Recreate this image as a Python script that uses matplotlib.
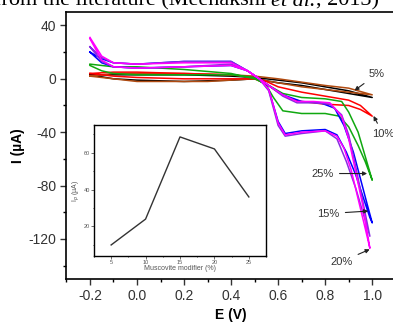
import numpy as np
import matplotlib.pyplot as plt
from matplotlib.ticker import MultipleLocator

# Voltammogrammes (E en V, I en µA), une boucle aller/retour par courbe
e5 = [-0.2, -0.1, 0.0, 0.2, 0.4, 0.5, 0.6, 0.7, 0.8, 0.9, 1.0,
      0.9, 0.8, 0.7, 0.6, 0.5, 0.4, 0.2, 0.0, -0.1, -0.2]
i5 = [3, 0, -1, -2, -1, 0, -3, -5, -8, -11, -14,
      -9, -6, -3, -1, 1, 2, 3, 3, 3, 3]

eb = [-0.2, -0.1, 0.0, 0.3, 0.5, 0.6, 0.7, 0.8, 0.9, 1.0,
      0.9, 0.8, 0.6, 0.5, 0.4, 0.2, 0.0, -0.1, -0.2]
ib = [2, 0, -2, -2, 0, -3, -6, -8, -10, -12,
      -7, -5, 0, 2, 3, 4, 4, 4, 2]

e10 = [-0.2, -0.1, 0.0, 0.2, 0.4, 0.5, 0.55, 0.6, 0.65, 0.7, 0.8, 0.9, 0.95, 1.0,
       0.95, 0.9, 0.8, 0.7, 0.6, 0.55, 0.5, 0.4, 0.2, 0.0, -0.1, -0.2]
i10 = [4, 2, 1, 0, 0, 0, -4, -10, -15, -17, -19, -20, -23, -28,
       -20, -16, -13, -10, -6, -2, 1, 3, 4, 5, 5, 4]

e25 = [-0.2, -0.15, -0.1, 0.0, 0.2, 0.4, 0.5, 0.55, 0.58, 0.62, 0.7, 0.8, 0.86, 0.9, 0.94, 0.97, 1.0,
       0.97, 0.94, 0.9, 0.87, 0.8, 0.7, 0.62, 0.55, 0.5, 0.4, 0.2, 0.0, -0.1, -0.2]
i25 = [10, 6, 4, 3, 3, 3, 1, -5, -14, -24, -26, -26, -28, -36, -50, -62, -76,
       -58, -40, -25, -17, -15, -14, -11, -4, 0, 4, 7, 9, 9, 11]

e15 = [-0.2, -0.15, -0.1, 0.0, 0.2, 0.4, 0.47, 0.52, 0.56, 0.58, 0.6, 0.63, 0.7, 0.8, 0.85, 0.89, 0.93, 0.96, 0.99, 1.0,
       0.98, 0.95, 0.92, 0.88, 0.84, 0.78, 0.7, 0.62, 0.56, 0.52, 0.47, 0.4, 0.2, 0.0, -0.1, -0.15, -0.2]
i15 = [20, 12, 9, 8, 9, 10, 6, 0, -8, -20, -32, -41, -39, -38, -42, -55, -72, -88, -104, -108,
       -95, -75, -55, -35, -22, -18, -17, -12, -5, 0, 6, 13, 13, 11, 12, 15, 20]

ev = [-0.2, -0.15, -0.1, 0.0, 0.2, 0.4, 0.47, 0.52, 0.56, 0.58, 0.6, 0.63, 0.7, 0.8, 0.85, 0.89, 0.93, 0.96, 0.99,
      0.96, 0.93, 0.9, 0.87, 0.82, 0.75, 0.68, 0.62, 0.56, 0.52, 0.47, 0.4, 0.2, 0.0, -0.1, -0.15, -0.2]
iv = [24, 13, 9, 8, 9, 11, 6, 0, -9, -22, -35, -43, -41, -39, -45, -62, -82, -100, -118,
      -92, -66, -42, -27, -19, -18, -18, -13, -5, 0, 6, 13, 13, 11, 12, 16, 24]

e20 = [-0.2, -0.15, -0.1, 0.0, 0.2, 0.4, 0.47, 0.52, 0.56, 0.58, 0.6, 0.63, 0.7, 0.8, 0.85, 0.88, 0.91, 0.94, 0.97, 0.99,
       0.96, 0.93, 0.9, 0.87, 0.82, 0.75, 0.68, 0.62, 0.56, 0.52, 0.47, 0.4, 0.2, 0.0, -0.1, -0.15, -0.2]
i20 = [30, 14, 9, 8, 9, 10, 6, 0, -8, -20, -33, -42, -40, -39, -43, -52, -68, -90, -112, -127,
       -95, -70, -45, -28, -18, -17, -17, -12, -5, 0, 6, 12, 12, 11, 12, 17, 31]

# Encart : courant de pic en fonction du taux de modifiant
taux = [5, 10, 15, 20, 25]
ipic = [10, 24, 68.5, 62, 36]

plt.rcParams['font.family'] = ['Liberation Sans', 'DejaVu Sans']
plt.rcParams['axes.unicode_minus'] = False

fig = plt.figure(figsize=(3.93, 3.27), dpi=100)
ax = fig.add_axes([0.169, 0.147, 0.838, 0.816])

courbes = [(e5, i5, 'black'), (eb, ib, '#b04a10'), (e10, i10, 'red'),
           (e25, i25, '#10a810'), (e15, i15, 'blue'), (ev, iv, '#8a2be2'),
           (e20, i20, 'magenta')]
for e, i, c in courbes:
    ax.plot(e, i, color=c, lw=1.1)

ax.set_xlim(-0.3, 1.1)
ax.set_ylim(-150, 50)
ax.xaxis.set_minor_locator(MultipleLocator(0.1))
ax.yaxis.set_major_locator(MultipleLocator(40))
ax.yaxis.set_minor_locator(MultipleLocator(20))
ax.set_xticks([-0.2, 0.0, 0.2, 0.4, 0.6, 0.8, 1.0])
ax.set_xticklabels(['-0.2', '0.0', '0.2', '0.4', '0.6', '0.8', '1.0'])
ax.tick_params(which='major', length=4, width=1, labelsize=10, colors='#333333')
ax.tick_params(which='minor', length=2.5, width=1)
for s in ax.spines.values():
    s.set_linewidth(1.2)
ax.set_xlabel('E (V)', fontsize=10, fontweight='bold', labelpad=3)
ax.set_ylabel('I (µA)', fontsize=10, fontweight='bold', labelpad=2)

# Étiquettes des courbes
fleche = dict(arrowstyle='-|>', color='#222222', lw=0.8, mutation_scale=6)
ax.annotate('5%', xy=(0.915, -10), xytext=(1.02, 3.5), fontsize=8, color='#333333',
            ha='center', va='center', arrowprops=fleche)
ax.annotate('10%', xy=(1.0, -26), xytext=(1.045, -41), fontsize=8, color='#333333',
            ha='center', va='center', arrowprops=fleche)
ax.annotate('25%', xy=(0.99, -71), xytext=(0.79, -71), fontsize=8, color='#333333',
            ha='center', va='center', arrowprops=fleche)
ax.annotate('15%', xy=(0.995, -99), xytext=(0.815, -101), fontsize=8, color='#333333',
            ha='center', va='center', arrowprops=fleche)
ax.annotate('20%', xy=(1.0, -127), xytext=(0.87, -137), fontsize=8, color='#333333',
            ha='center', va='center', arrowprops=fleche)

# Encart
axi = fig.add_axes([0.239, 0.217, 0.438, 0.401])
axi.plot(taux, ipic, color='#333333', lw=1)
axi.set_xlim(2.5, 27.5)
axi.set_ylim(4, 75)
axi.set_xticks(taux)
axi.set_xticklabels(['5', '10', '15', '20', '25'])
axi.xaxis.set_minor_locator(MultipleLocator(2.5))
axi.set_yticks([20, 40, 60])
axi.yaxis.set_minor_locator(MultipleLocator(10))
axi.tick_params(which='major', length=2, width=0.6, labelsize=4, pad=1, colors='#555555')
axi.tick_params(which='minor', length=1, width=0.5)
for s in axi.spines.values():
    s.set_linewidth(1)
axi.set_xlabel('Muscovite modifier (%)', fontsize=5, color='#555555', labelpad=0)
axi.set_ylabel('I$_p$ (µA)', fontsize=5, color='#555555', labelpad=1)

# Bout de texte de la page, coupé en haut : on enchaîne les morceaux
morceaux = [('from the literature (Meenakshi ', 'normal'), ('et al.', 'italic'), (', 2013)', 'normal')]
rend = fig.canvas.get_renderer()
x = -0.016
for txt, st in morceaux:
    t = fig.text(x, 0.982, txt, fontsize=16, family='Liberation Serif',
                 style=st, va='baseline')
    bb = t.get_window_extent(renderer=rend)
    x = bb.x1 / fig.bbox.width

fig.savefig('out.png', dpi=100)
